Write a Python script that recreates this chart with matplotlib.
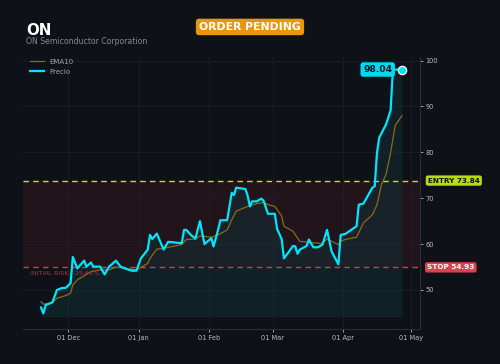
import matplotlib
matplotlib.use("Agg")
import matplotlib.pyplot as plt
import matplotlib.dates as mdates
import matplotlib.transforms as mtransforms
import pandas as pd
import numpy as np

ticker = "ON"
company = "ON Semiconductor Corporation"
status = "ORDER PENDING"
entry = 73.84
stop = 54.93
last_price = 98.04

price_dates = [
    "2024-11-19", "2024-11-20", "2024-11-21", "2024-11-24", "2024-11-26", "2024-11-28",
    "2024-11-30", "2024-12-02", "2024-12-03", "2024-12-05", "2024-12-08", "2024-12-09",
    "2024-12-11", "2024-12-12", "2024-12-15", "2024-12-17", "2024-12-19", "2024-12-22",
    "2024-12-24", "2024-12-26", "2024-12-29", "2024-12-31", "2025-01-02", "2025-01-05",
    "2025-01-06", "2025-01-07", "2025-01-09", "2025-01-12", "2025-01-14", "2025-01-20",
    "2025-01-21", "2025-01-22", "2025-01-24", "2025-01-26", "2025-01-28", "2025-01-30",
    "2025-02-02", "2025-02-03", "2025-02-05", "2025-02-06", "2025-02-09", "2025-02-11",
    "2025-02-12", "2025-02-13", "2025-02-17", "2025-02-18", "2025-02-19", "2025-02-20",
    "2025-02-22", "2025-02-24", "2025-02-25", "2025-02-27", "2025-03-02", "2025-03-03",
    "2025-03-05", "2025-03-06", "2025-03-08", "2025-03-10", "2025-03-11", "2025-03-12",
    "2025-03-13", "2025-03-16", "2025-03-17", "2025-03-19", "2025-03-21", "2025-03-23",
    "2025-03-25", "2025-03-27", "2025-03-30", "2025-03-31", "2025-04-02", "2025-04-07",
    "2025-04-08", "2025-04-10", "2025-04-14", "2025-04-15", "2025-04-16", "2025-04-17",
    "2025-04-20", "2025-04-22", "2025-04-23", "2025-04-27",
]
price_values = [
    46.2, 44.9, 46.7, 47.3, 50.0, 50.4,
    50.5, 51.5, 57.2, 54.7, 56.4, 55.1,
    56.0, 55.1, 55.1, 53.4, 55.1, 56.4,
    55.1, 54.7, 54.2, 54.2, 56.9, 58.8,
    62.0, 61.1, 62.3, 58.8, 60.5, 60.2,
    63.1, 63.1, 62.0, 61.2, 65.0, 60.0,
    61.3, 59.5, 63.1, 65.2, 65.2, 71.2,
    70.7, 72.3, 72.0, 70.6, 68.2, 69.3,
    69.3, 69.9, 69.5, 66.6, 66.6, 63.3,
    61.1, 56.9, 58.2, 59.6, 59.5, 57.9,
    58.8, 59.6, 61.0, 59.3, 59.3, 59.9,
    63.1, 58.4, 55.6, 62.0, 62.2, 63.9,
    68.6, 68.8, 72.3, 72.6, 79.9, 83.2,
    86.1, 89.1, 98.0, 98.04,
]

ema_dates = [
    "2024-11-19", "2024-11-20", "2024-11-24", "2024-11-26", "2024-11-30", "2024-12-02",
    "2024-12-03", "2024-12-05", "2024-12-08", "2024-12-11", "2024-12-15", "2024-12-19",
    "2024-12-22", "2024-12-26", "2024-12-31", "2025-01-02", "2025-01-05", "2025-01-06",
    "2025-01-09", "2025-01-12", "2025-01-14", "2025-01-20", "2025-01-22", "2025-01-26",
    "2025-01-28", "2025-02-02", "2025-02-05", "2025-02-09", "2025-02-11", "2025-02-13",
    "2025-02-18", "2025-02-22", "2025-02-25", "2025-02-27", "2025-03-02", "2025-03-05",
    "2025-03-06", "2025-03-10", "2025-03-13", "2025-03-17", "2025-03-21", "2025-03-23",
    "2025-03-25", "2025-03-30", "2025-03-31", "2025-04-02", "2025-04-07", "2025-04-10",
    "2025-04-14", "2025-04-16", "2025-04-18", "2025-04-20", "2025-04-22", "2025-04-24",
    "2025-04-27",
]
ema_values = [
    47.4, 46.9, 47.2, 48.2, 48.8, 49.3,
    51.1, 52.2, 53.1, 54.0, 54.4, 54.4,
    55.0, 54.7, 54.4, 54.9, 55.8, 56.9,
    58.9, 59.1, 59.3, 59.9, 61.0, 61.1,
    61.8, 61.5, 62.0, 63.1, 65.3, 67.2,
    68.2, 68.8, 69.1, 68.6, 68.2, 66.1,
    63.9, 62.8, 60.6, 60.4, 60.2, 60.2,
    61.1, 59.9, 60.6, 61.0, 61.5, 64.6,
    66.4, 68.6, 73.0, 75.2, 79.9, 85.8,
    88.0,
]

BG = "#0e1117"
CYAN = "#00e5ff"
EMA_C = "#8a6a1c"
ENTRY_C = "#c9d92a"
ENTRY_BOX = "#b8dc0c"
STOP_C = "#c8404a"
STOP_BOX = "#d9434c"
ORANGE = "#e8960c"

px = pd.to_datetime(price_dates)
ex = pd.to_datetime(ema_dates)

fig = plt.figure(figsize=(5.0, 3.64), dpi=100, facecolor=BG)
ax = fig.add_axes([0.046, 0.096, 0.794, 0.747], facecolor=BG)

# risk zone between stop and entry
ax.axhspan(stop, entry, color="#3a1820", alpha=0.45, lw=0, zorder=0)

# area under price
base = min(price_values) * 0.984
ax.fill_between(px, price_values, base, color="#12343c", alpha=0.45, lw=0, zorder=1)

ax.plot(ex, ema_values, color=EMA_C, lw=0.9, label="EMA10", zorder=3)
ax.plot(px, price_values, color=CYAN, lw=1.6, label="Precio", zorder=4)

ax.axhline(entry, color=ENTRY_C, ls=(0, (4, 3)), lw=1.0, zorder=2)
ax.axhline(stop, color=STOP_C, ls=(0, (4, 3)), lw=1.0, zorder=2)

ax.scatter([px[-1]], [price_values[-1]], s=36, color=CYAN, edgecolor="white",
           linewidth=0.9, zorder=6)
ax.annotate(f"{last_price:.2f}", xy=(px[-1], price_values[-1]), xytext=(-7, 0),
            textcoords="offset points", ha="right", va="center", fontsize=6.6,
            fontweight="bold", color="#0a1a20",
            bbox=dict(boxstyle="round,pad=0.3", fc="#00d8f0", ec="none"), zorder=7)

trans = mtransforms.blended_transform_factory(ax.transAxes, ax.transData)
ax.text(1.02, entry, f"ENTRY {entry:.2f}", transform=trans, ha="left", va="center",
        fontsize=5.2, fontweight="bold", color="#111111",
        bbox=dict(boxstyle="round,pad=0.3", fc=ENTRY_BOX, ec="none"), clip_on=False)
ax.text(1.018, stop, f"STOP {stop:.2f}", transform=trans, ha="left", va="center",
        fontsize=5.2, fontweight="bold", color="white",
        bbox=dict(boxstyle="round,pad=0.3", fc=STOP_BOX, ec="none"), clip_on=False)

risk = (stop - entry) / entry * 100
ax.text(0.018, stop - 0.9, f"INITIAL RISK: {risk:.2f}%", transform=trans, ha="left",
        va="top", fontsize=4.6, color="#a8363f")

ax.xaxis.set_major_locator(mdates.MonthLocator())
ax.xaxis.set_major_formatter(mdates.DateFormatter("%d %b"))
ax.yaxis.tick_right()
ax.set_yticks([50, 60, 70, 80, 90, 100])
ax.tick_params(axis="both", colors="#b8bcc4", labelsize=4.8, length=2, width=0.6, pad=2)
ax.grid(True, color="#1e222a", lw=0.6, alpha=0.8)
ax.set_axisbelow(True)
for s in ["top", "left"]:
    ax.spines[s].set_visible(False)
for s in ["bottom", "right"]:
    ax.spines[s].set_color("#2a2e36")
    ax.spines[s].set_linewidth(0.8)

ax.margins(x=0.05, y=0.05)

leg = ax.legend(loc="upper left", frameon=False, fontsize=5.0, labelcolor="#a0a4ac",
                handlelength=2.1, handletextpad=0.7, labelspacing=0.6,
                borderaxespad=0.0, bbox_to_anchor=(0.01, 1.005))

fig.text(0.052, 0.904, ticker, fontsize=10.8, fontweight="bold", color="white",
         ha="left", va="baseline")
fig.text(0.052, 0.879, company, fontsize=5.6, color="#858991", ha="left", va="baseline")
fig.text(0.5, 0.926, status, fontsize=7.8, fontweight="bold", color="white",
         ha="center", va="center",
         bbox=dict(boxstyle="round,pad=0.3", fc=ORANGE, ec="none"))

fig.savefig("out.png", dpi=100, facecolor=BG)
